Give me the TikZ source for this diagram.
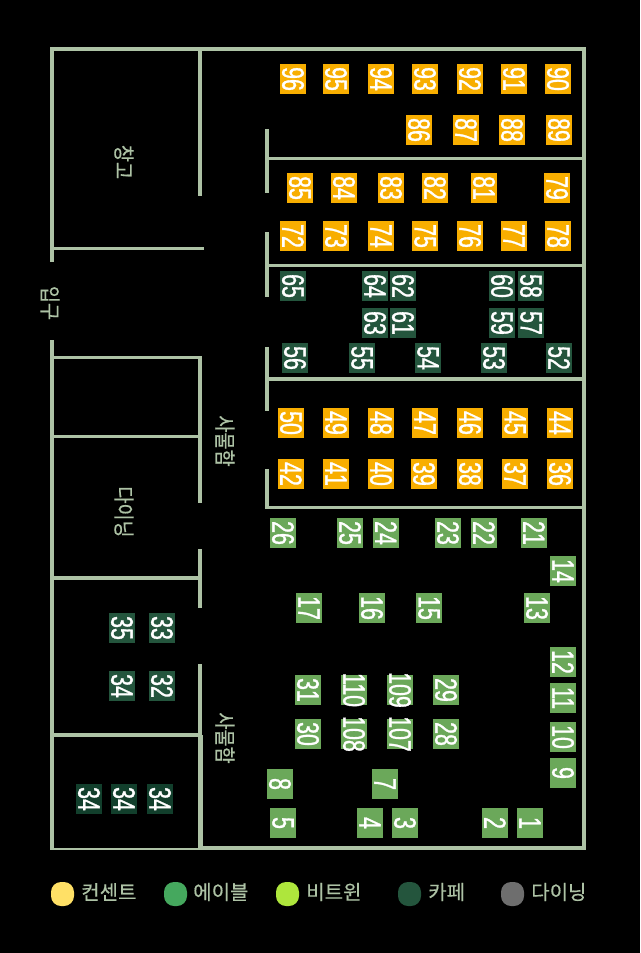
\documentclass[tikz,border=0pt]{standalone}
\usepackage{fontspec}
\newfontfamily\seatfont[FakeStretch=0.69,FakeBold=1]{Liberation Sans}
\newfontfamily\roomfont[FakeStretch=0.87,FakeBold=0.5]{Noto Sans CJK KR}
\newfontfamily\legendfont[FakeBold=0.4]{Noto Sans CJK KR}
\definecolor{wallcol}{HTML}{ADC2A5}
\definecolor{orangecol}{HTML}{F8AE00}
\definecolor{greencol}{HTML}{6BA85A}
\definecolor{cafecol}{HTML}{24553D}
\definecolor{cafedark}{HTML}{123F2C}
\definecolor{outletcol}{HTML}{FFE066}
\definecolor{tablecol}{HTML}{45A85E}
\definecolor{vitamincol}{HTML}{AEE63C}
\definecolor{dinecol}{HTML}{6E6E6E}
\tikzset{
	wall/.style={draw=wallcol,line width=3pt},
	thickwall/.style={draw=wallcol,line width=3.75pt},
	thinwall/.style={draw=wallcol,line width=2.5pt},
	seat/.style={rotate=-90,minimum width=22.5pt,minimum height=19.5pt,inner sep=0pt,text=white,font=\seatfont\fontsize{23.2pt}{24pt}\selectfont,execute at begin node={\hbox to 0pt\bgroup\hss},execute at end node={\hss\egroup}},
	orangeseat/.style={seat,fill=orangecol},
	greenseat/.style={seat,fill=greencol},
	cafeseat/.style={seat,fill=cafecol},
	darkseat/.style={seat,fill=cafedark},
	room/.style={rotate=-90,text=wallcol,inner sep=0pt,font=\roomfont\fontsize{16pt}{17pt}\selectfont},
	legendtext/.style={anchor=west,text=wallcol,inner sep=0pt,font=\legendfont\fontsize{15pt}{17pt}\selectfont},
	legenddot/.style={minimum width=17.25pt,minimum height=18pt,inner sep=0pt,rounded corners=7.5pt}
}
\begin{document}
\begin{tikzpicture}[x=0.75pt,y=-0.75pt]
	\fill[black] (0,0) rectangle (640,953);
	\useasboundingbox (0,0) rectangle (640,953);
	\draw[thinwall] (50,49) -- (585,49);
	\draw[wall] (584,47) -- (584,849);
	\draw[wall] (52,47) -- (52,262);
	\draw[wall] (52,340) -- (52,850);
	\draw[draw=wallcol,line width=1.5pt] (52,848.5) -- (200,848.5);
	\draw[wall] (200,848) -- (586,848);
	\draw[wall] (200,49) -- (200,196);
	\draw[thinwall] (52,248.5) -- (204,248.5);
	\draw[thinwall] (52,357.5) -- (200,357.5);
	\draw[thinwall] (52,436.5) -- (200,436.5);
	\draw[thinwall] (52,578) -- (200,578);
	\draw[thinwall] (52,735) -- (202,735);
	\draw[wall] (200,356) -- (200,503);
	\draw[wall] (200,549) -- (200,608);
	\draw[wall] (200,664) -- (200,735);
	\draw[thickwall] (200,735) -- (200,850);
	\draw[wall] (267,129) -- (267,193);
	\draw[thinwall] (267,158.5) -- (584,158.5);
	\draw[wall] (267,232) -- (267,297);
	\draw[thinwall] (267,265.5) -- (584,265.5);
	\draw[wall] (267,347) -- (267,411);
	\draw[thinwall] (267,379) -- (584,379);
	\draw[wall] (267,469) -- (267,509);
	\draw[thinwall] (267,507.5) -- (584,507.5);
	\node[room] at (124,162) (storage) {창고};
	\node[room] at (50,303) (entrance) {입구};
	\node[room] at (225,441) (lockerone) {사물함};
	\node[room] at (124,512) (dining) {다이닝};
	\node[room] at (225,738) (lockertwo) {사물함};
	\node[orangeseat] at (293,79) (s96) {96};
	\node[orangeseat] at (336,79) (s95) {95};
	\node[orangeseat] at (381,79) (s94) {94};
	\node[orangeseat] at (425,79) (s93) {93};
	\node[orangeseat] at (470,79) (s92) {92};
	\node[orangeseat] at (514,79) (s91) {91};
	\node[orangeseat] at (558,79) (s90) {90};
	\node[orangeseat] at (419,130) (s86) {86};
	\node[orangeseat] at (466,130) (s87) {87};
	\node[orangeseat] at (512,130) (s88) {88};
	\node[orangeseat] at (559,130) (s89) {89};
	\node[orangeseat] at (300,188) (s85) {85};
	\node[orangeseat] at (344,188) (s84) {84};
	\node[orangeseat] at (391,188) (s83) {83};
	\node[orangeseat] at (435,188) (s82) {82};
	\node[orangeseat] at (484,188) (s81) {81};
	\node[orangeseat] at (557,188) (s79) {79};
	\node[orangeseat] at (293,236) (s72) {72};
	\node[orangeseat] at (336,236) (s73) {73};
	\node[orangeseat] at (381,236) (s74) {74};
	\node[orangeseat] at (425,236) (s75) {75};
	\node[orangeseat] at (470,236) (s76) {76};
	\node[orangeseat] at (514,236) (s77) {77};
	\node[orangeseat] at (558,236) (s78) {78};
	\node[cafeseat] at (293,286) (s65) {65};
	\node[cafeseat] at (375,286) (s64) {64};
	\node[cafeseat] at (403,286) (s62) {62};
	\node[cafeseat] at (502,286) (s60) {60};
	\node[cafeseat] at (531,286) (s58) {58};
	\node[cafeseat] at (375,323) (s63) {63};
	\node[cafeseat] at (403,323) (s61) {61};
	\node[cafeseat] at (502,323) (s59) {59};
	\node[cafeseat] at (531,323) (s57) {57};
	\node[cafeseat] at (295,358) (s56) {56};
	\node[cafeseat] at (362,358) (s55) {55};
	\node[cafeseat] at (428,358) (s54) {54};
	\node[cafeseat] at (494,358) (s53) {53};
	\node[cafeseat] at (559,358) (s52) {52};
	\node[orangeseat] at (291,423) (s50) {50};
	\node[orangeseat] at (336,423) (s49) {49};
	\node[orangeseat] at (381,423) (s48) {48};
	\node[orangeseat] at (425,423) (s47) {47};
	\node[orangeseat] at (470,423) (s46) {46};
	\node[orangeseat] at (515,423) (s45) {45};
	\node[orangeseat] at (560,423) (s44) {44};
	\node[orangeseat] at (291,474) (s42) {42};
	\node[orangeseat] at (336,474) (s41) {41};
	\node[orangeseat] at (381,474) (s40) {40};
	\node[orangeseat] at (424,474) (s39) {39};
	\node[orangeseat] at (470,474) (s38) {38};
	\node[orangeseat] at (515,474) (s37) {37};
	\node[orangeseat] at (560,474) (s36) {36};
	\node[greenseat] at (283,533) (s26) {26};
	\node[greenseat] at (350,533) (s25) {25};
	\node[greenseat] at (386,533) (s24) {24};
	\node[greenseat] at (448,533) (s23) {23};
	\node[greenseat] at (484,533) (s22) {22};
	\node[greenseat] at (534,533) (s21) {21};
	\node[greenseat] at (563,571) (s14) {14};
	\node[greenseat] at (309,608) (s17) {17};
	\node[greenseat] at (372,608) (s16) {16};
	\node[greenseat] at (429,608) (s15) {15};
	\node[greenseat] at (537,608) (s13) {13};
	\node[greenseat] at (563,662) (s12) {12};
	\node[greenseat] at (563,698) (s11) {11};
	\node[greenseat] at (563,737) (s10) {10};
	\node[greenseat] at (563,773) (s9) {9};
	\node[greenseat] at (308,690) (s31) {31};
	\node[greenseat] at (354,690) (s110) {110};
	\node[greenseat] at (400,690) (s109) {109};
	\node[greenseat] at (446,690) (s29) {29};
	\node[greenseat] at (308,734) (s30) {30};
	\node[greenseat] at (354,734) (s108) {108};
	\node[greenseat] at (400,734) (s107) {107};
	\node[greenseat] at (446,734) (s28) {28};
	\node[greenseat] at (280,784) (s8) {8};
	\node[greenseat] at (385,784) (s7) {7};
	\node[greenseat] at (283,823) (s5) {5};
	\node[greenseat] at (370,823) (s4) {4};
	\node[greenseat] at (405,823) (s3) {3};
	\node[greenseat] at (495,823) (s2) {2};
	\node[greenseat] at (530,823) (s1) {1};
	\node[cafeseat] at (122,628) (s35) {35};
	\node[cafeseat] at (162,628) (s33) {33};
	\node[cafeseat] at (122,686) (s34a) {34};
	\node[cafeseat] at (162,686) (s32) {32};
	\node[darkseat] at (89,799) (s34b) {34};
	\node[darkseat] at (124,799) (s34c) {34};
	\node[darkseat] at (160,799) (s34d) {34};
	\node[legenddot,fill=outletcol] at (62.5,894) (outlet) {};
	\node[legendtext] at (81,892) (outlettext) {컨센트};
	\node[legenddot,fill=tablecol] at (175.5,894) (table) {};
	\node[legendtext] at (193,892) (tabletext) {에이블};
	\node[legenddot,fill=vitamincol] at (287.5,894) (vitamin) {};
	\node[legendtext] at (306,892) (vitamintext) {비트윈};
	\node[legenddot,fill=cafecol] at (409.5,894) (cafe) {};
	\node[legendtext] at (428,892) (cafetext) {카페};
	\node[legenddot,fill=dinecol] at (512.5,894) (dine) {};
	\node[legendtext] at (531,892) (dinetext) {다이닝};
\end{tikzpicture}
\end{document}
